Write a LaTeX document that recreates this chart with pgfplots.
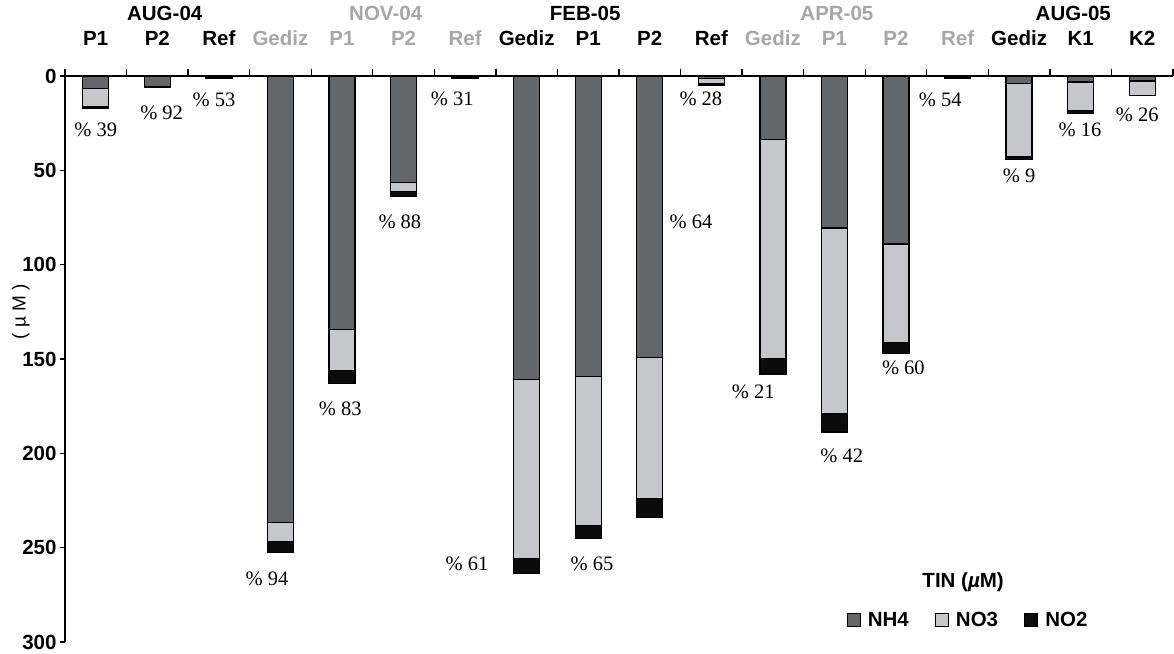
\documentclass[border=0pt]{standalone}
\usepackage{pgfplots}
\usepackage{pgfplotstable}
\pgfplotsset{compat=1.18}
\usepackage{fontspec}
\setmainfont{Liberation Serif}
\setsansfont{Liberation Sans}
\definecolor{nhfour}{HTML}{646769}
\definecolor{nothree}{HTML}{C6C7CA}
\definecolor{notwo}{HTML}{0B0B0B}
\definecolor{gtxt}{HTML}{A7A7A7}
\newcommand{\lab}{\sffamily\bfseries\fontsize{20.5}{24}\selectfont}
\newcommand{\pct}{\rmfamily\fontsize{20.5}{24}\selectfont}
\newcommand{\g}[1]{\textcolor{gtxt}{#1}}

\pgfplotstableread{
x nh4 no3 no2
0 6.5 10 0.8
1 5.5 0.2 0.4
2 0.8 0.3 0.4
3 236.7 10 5.8
4 134.4 21.6 6.9
5 56.4 4.8 2.8
6 0.4 0.6 0.4
7 160.8 94.9 7.9
8 159.2 79.1 6.8
9 149.2 74.8 10
10 1.3 3.0 0.4
11 33.7 116 8.3
12 80.6 98.6 9.5
13 89.1 52.2 5.8
14 0.8 0.3 0.4
15 4.0 39 1.3
16 3.2 15 1.5
17 2.7 7.5 0.3
}\data

\begin{document}
\begin{tikzpicture}
\begin{axis}[
  width=1108pt, height=566pt, scale only axis,
  xmin=-0.5, xmax=17.5, ymin=-300, ymax=0,
  axis x line=top, axis y line=left,
  axis line style={-, line width=1.6pt, black},
  ybar stacked, bar width=26pt,
  xtick={0,...,17},
  xticklabels={P1,P2,Ref,\g{Gediz},\g{P1},\g{P2},\g{Ref},Gediz,P1,P2,Ref,\g{Gediz},\g{P1},\g{P2},\g{Ref},Gediz,K1,K2},
  major x tick style={draw=none},
  minor xtick={-0.5,0.5,...,17.5},
  minor tick length=7pt,
  major tick length=5pt,
  tick align=outside,
  tick style={line width=1.4pt, black},
  ytick={-300,-250,...,0},
  yticklabels={300,250,200,150,100,50,0},
  ticklabel style={font=\lab},
  xticklabel style={anchor=base, yshift=25pt},
  /pgf/number format/assume math mode=true,
  clip=false,
  legend style={at={(axis cs:14.17,-288.4)}, anchor=center, draw=none, fill=none,
    font=\lab, /tikz/every even column/.append style={column sep=24pt}},
  legend columns=3,
]
\addplot[fill=nhfour, draw=black, line width=1.3pt,
  legend image code/.code={\draw[fill=nhfour,draw=black,line width=1pt] (0pt,-6.5pt) rectangle (13pt,6.5pt); \path (18pt,0pt);}]
  table[x=x, y expr=-\thisrow{nh4}] {\data};
\addplot[fill=nothree, draw=black, line width=1.3pt,
  legend image code/.code={\draw[fill=nothree,draw=black,line width=1pt] (0pt,-6.5pt) rectangle (13pt,6.5pt); \path (18pt,0pt);}]
  table[x=x, y expr=-\thisrow{no3}] {\data};
\addplot[fill=notwo, draw=black, line width=1.3pt,
  legend image code/.code={\draw[fill=notwo,draw=black,line width=1pt] (0pt,-6.5pt) rectangle (13pt,6.5pt); \path (18pt,0pt);}]
  table[x=x, y expr=-\thisrow{no2}] {\data};
\legend{NH4,NO3,NO2}

% group labels
\node[font=\lab, anchor=base, yshift=55pt] at (axis cs:1.12,0) {AUG-04};
\node[font=\lab, anchor=base, yshift=55pt, text=gtxt] at (axis cs:4.71,0) {NOV-04};
\node[font=\lab, anchor=base, yshift=55pt] at (axis cs:7.95,0) {FEB-05};
\node[font=\lab, anchor=base, yshift=55pt, text=gtxt] at (axis cs:12.04,0) {APR-05};
\node[font=\lab, anchor=base, yshift=55pt] at (axis cs:15.88,0) {AUG-05};

% percentage labels
\node[font=\pct] at (axis cs:0,-28.5) {\% 39};
\node[font=\pct] at (axis cs:1.07,-19.5) {\% 92};
\node[font=\pct] at (axis cs:1.92,-12.6) {\% 53};
\node[font=\pct] at (axis cs:2.78,-266.7) {\% 94};
\node[font=\pct] at (axis cs:3.97,-176.3) {\% 83};
\node[font=\pct] at (axis cs:4.94,-77.5) {\% 88};
\node[font=\pct] at (axis cs:5.79,-11.9) {\% 31};
\node[font=\pct] at (axis cs:6.03,-258.3) {\% 61};
\node[font=\pct] at (axis cs:8.06,-258.3) {\% 65};
\node[font=\pct] at (axis cs:9.67,-77.5) {\% 64};
\node[font=\pct] at (axis cs:9.83,-11.9) {\% 28};
\node[font=\pct] at (axis cs:10.68,-167.6) {\% 21};
\node[font=\pct] at (axis cs:12.12,-201.4) {\% 42};
\node[font=\pct] at (axis cs:13.12,-154.5) {\% 60};
\node[font=\pct] at (axis cs:13.72,-12.5) {\% 54};
\node[font=\pct] at (axis cs:15.0,-52.7) {\% 9};
\node[font=\pct] at (axis cs:15.99,-28.3) {\% 16};
\node[font=\pct] at (axis cs:16.92,-20.4) {\% 26};

% legend title and y label
\node[font=\lab] at (axis cs:14.09,-268.3) {TIN (\textit{µ}M)};
\node[rotate=90, font=\sffamily\fontsize{19}{21}\selectfont] at (axis cs:-1.22,-125) {( µ M )};
\end{axis}
\pgfresetboundingbox
\path[use as bounding box] (-65pt,-11pt) rectangle (1109pt,642pt);
\end{tikzpicture}
\end{document}
